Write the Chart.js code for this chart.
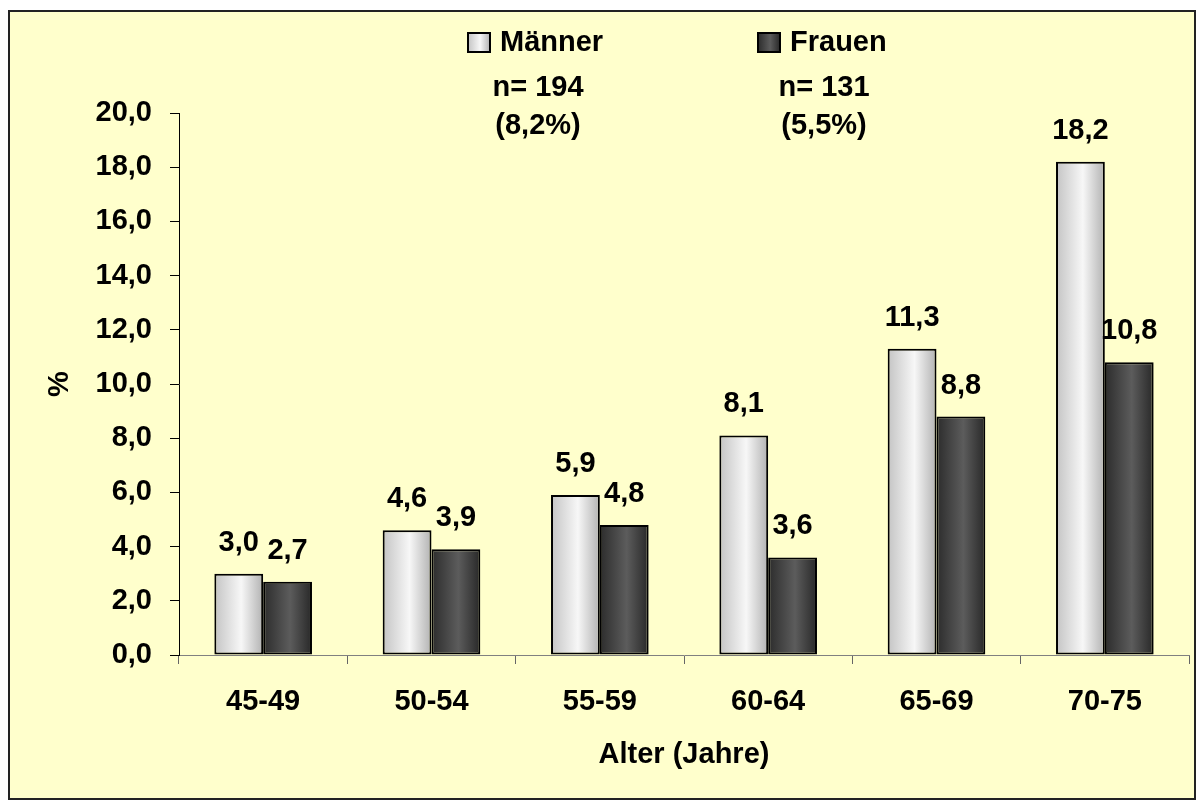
<!DOCTYPE html>
<html>
<head>
<meta charset="utf-8">
<script src="https://cdn.jsdelivr.net/npm/chart.js@4"></script>
<style>
  body { margin: 0; background: #fff; }
  canvas { display: block; }
</style>
</head>
<body>
<canvas id="chart" width="1198" height="802"></canvas>
<script>
// data
const categories = ['45-49', '50-54', '55-59', '60-64', '65-69', '70-75']
const maenner = [3.0, 4.6, 5.9, 8.1, 11.3, 18.2]
const frauen = [2.7, 3.9, 4.8, 3.6, 8.8, 10.8]
const seriesNames = ['Männer', 'Frauen']
const seriesCounts = ['n= 194', 'n= 131']
const seriesShares = ['(8,2%)', '(5,5%)']
const yMin = 0
const yMax = 20
const yStep = 2

const FONT = '"Liberation Sans", Arial, sans-serif'
const SIZE = 29
Chart.defaults.font = { family: FONT, size: SIZE, weight: 'bold' }
Chart.defaults.color = '#000'

// horizontal shading for each series
const stops = [
    [[0, '#c4c4c4'], [0.55, '#f7f7f7'], [1, '#b2b2b2']],
    [[0, '#2c2c2c'], [0.55, '#5c5c5c'], [1, '#282828']]
]

function makeGradient(ctx, x0, x1, idx) {
    let g = ctx.createLinearGradient(x0, 0, x1, 0)
    stops[idx].forEach(s => g.addColorStop(s[0], s[1]))
    return g
}

function fmt(v) {
    return v.toFixed(1).replace('.', ',')
}

const backgroundPlugin = {
    id: 'bg',
    beforeDraw(chart) {
        let c = chart.ctx
        c.save()
        c.fillStyle = '#ffffcc'
        c.fillRect(9, 11, 1186, 788)
        c.strokeStyle = '#222'
        c.lineWidth = 2
        c.strokeRect(9, 11, 1186, 788)
        c.restore()
    }
}

const shadePlugin = {
    id: 'shade',
    beforeDatasetsDraw(chart) {
        chart.data.datasets.forEach((ds, i) => {
            let meta = chart.getDatasetMeta(i)
            meta.data.forEach(bar => {
                let g = makeGradient(chart.ctx, bar.x - bar.width / 2, bar.x + bar.width / 2, i)
                bar.options = Object.assign({}, bar.options, { backgroundColor: g })
            })
        })
    }
}

const valueLabels = {
    id: 'valueLabels',
    afterDatasetsDraw(chart) {
        let c = chart.ctx
        c.save()
        c.font = 'bold ' + SIZE + 'px ' + FONT
        c.fillStyle = '#000'
        c.textAlign = 'center'
        c.textBaseline = 'alphabetic'
        chart.data.datasets.forEach((ds, i) => {
            chart.getDatasetMeta(i).data.forEach((bar, j) => {
                c.fillText(fmt(ds.data[j]), bar.x, bar.y - 23)
            })
        })
        c.restore()
    }
}

// legend and the n= notes on top
const topNotes = {
    id: 'topNotes',
    afterDraw(chart) {
        let c = chart.ctx
        let boxX = [468, 758]
        let noteX = [538, 824]
        c.save()
        c.font = 'bold ' + SIZE + 'px ' + FONT
        for (let i = 0; i < seriesNames.length; i++) {
            c.fillStyle = makeGradient(c, boxX[i], boxX[i] + 22, i)
            c.fillRect(boxX[i], 33, 22, 19)
            c.strokeStyle = '#000'
            c.lineWidth = 2
            c.strokeRect(boxX[i], 33, 22, 19)
            c.fillStyle = '#000'
            c.textAlign = 'left'
            c.textBaseline = 'middle'
            c.fillText(seriesNames[i], boxX[i] + 32, 43)
            c.textAlign = 'center'
            c.fillText(seriesCounts[i], noteX[i], 88)
            c.fillText(seriesShares[i], noteX[i], 126)
        }
        c.restore()
    }
}

const barStyle = {
    borderColor: '#000',
    borderWidth: 2,
    borderSkipped: false,
    backgroundColor: '#cccccc',
    categoryPercentage: 0.58,
    barPercentage: 1
}

const ctx = document.getElementById('chart')
myChart = new Chart(ctx, {
    type: 'bar',
    data: {
        labels: categories,
        datasets: [
            Object.assign({ label: seriesNames[0], data: maenner }, barStyle),
            Object.assign({ label: seriesNames[1], data: frauen }, barStyle)
        ]
    },
    options: {
        responsive: false,
        animation: false,
        events: [],
        layout: { padding: { left: 20, right: 9, top: 113, bottom: 20 } },
        plugins: {
            legend: { display: false },
            tooltip: { enabled: false },
            colors: { enabled: false }
        },
        scales: {
            x: {
                grid: { drawOnChartArea: false, tickLength: 9, color: '#666' },
                border: { color: '#808080', width: 1 },
                ticks: { padding: 21 },
                title: { display: true, text: 'Alter (Jahre)', padding: { top: 10, bottom: 10 } },
                afterFit(s) { s.height = 127 }
            },
            y: {
                min: yMin,
                max: yMax,
                grid: { drawOnChartArea: false, tickLength: 9, color: '#000' },
                border: { color: '#000', width: 1 },
                ticks: { stepSize: yStep, padding: 18, callback: v => fmt(v) },
                title: { display: true, text: '%', padding: { top: 23, bottom: 23 } },
                afterFit(s) { s.width = 159 }
            }
        }
    },
    plugins: [backgroundPlugin, shadePlugin, valueLabels, topNotes]
})
</script>
</body>
</html>
